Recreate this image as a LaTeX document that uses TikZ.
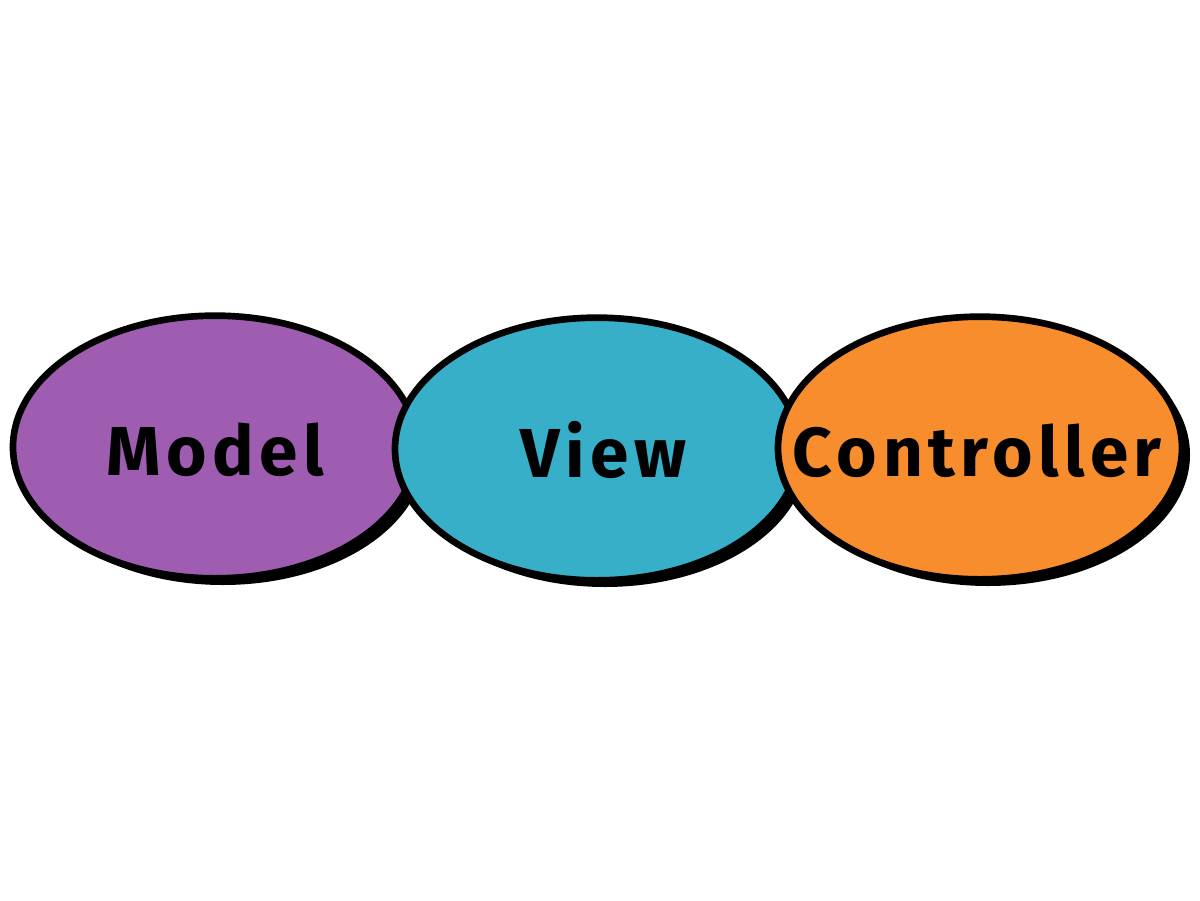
\documentclass[tikz,border=0pt]{standalone}
\usepackage{fontspec}
\newfontfamily\lblfont[LetterSpace=8]{Fira Sans}
\usetikzlibrary{shapes.geometric,shadows}
\definecolor{modelc}{HTML}{9F5DB1}
\definecolor{viewc}{HTML}{38AFC9}
\definecolor{ctrlc}{HTML}{F78D2D}
\newcommand{\blobtext}[1]{\raisebox{-21.5pt}[0pt][0pt]{\makebox[0pt]{#1}}}
\begin{document}
\begin{tikzpicture}[x=0.75pt,y=-0.75pt,
  blob/.style={ellipse, draw=black, line width=5pt, minimum width=303pt, minimum height=197pt, inner sep=0pt,
    drop shadow={shadow xshift=6pt, shadow yshift=-5pt, fill=black, opacity=1},
    font=\lblfont\bfseries\fontsize{52}{60}\selectfont, text=black}]
\useasboundingbox (0,0) rectangle (1200,900);
\node[blob, fill=modelc] (model) at (215,447) {\blobtext{Model}};
\node[blob, fill=viewc] (view) at (597,449) {\blobtext{\hspace*{10pt}View}};
\node[blob, fill=ctrlc] (ctrl) at (980,448) {\blobtext{\hspace*{-4pt}Controller}};
\end{tikzpicture}
\end{document}
